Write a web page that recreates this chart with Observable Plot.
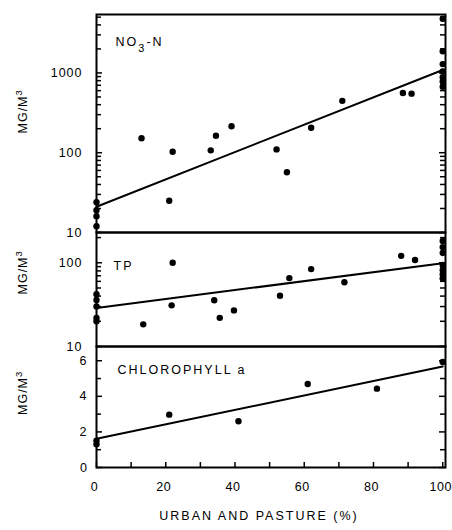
<!DOCTYPE html>
<html><head><meta charset="utf-8">
<script src="https://cdn.jsdelivr.net/npm/d3@7"></script>
<script src="https://cdn.jsdelivr.net/npm/@observablehq/plot@0.6"></script>
<style>
body{margin:0;background:#fff;}
#chart{position:relative;width:452px;height:530px;}
#chart svg{position:absolute;left:0;top:0;}
#chart text{letter-spacing:1px;}
</style></head><body><div id="chart"></div><script>
// ---- data ----
const no3X = [0,0,0,0, 13,21,22,33,34.5,39,52,55,62,71,88.5,91, 100,100,100,100,100,100,100];
const no3Y = [24,19,16,12, 152,25,103,107,163,215,110,57,206,447,560,550, 4780,1870,1290,1040,886,783,670];
const tpX = [0,0,0,0,0, 13.5,21.7,22,34,35.6,39.7,53,55.7,62,71.6,88,92, 100,100,100,100,100,100,100];
const tpY = [42,36,30,22,20, 18.4,31,100,35.7,22,27,40.4,65.6,84,58.6,121,108, 182,154,131,94,82,73,65];
const chlX = [0,0, 21,41,61,81,100];
const chlY = [1.5,1.3, 2.97,2.6,4.69,4.43,5.93];
const fitX = [0,100];
const fitNO3 = [21,1090];
const fitTP = [28.8,99];
const fitChl = [1.61,5.68];
// ticks
const no3Labels = [10,100,1000];
const no3Minor = [20,30,40,50,60,70,80,90,200,300,400,500,600,700,800,900,2000,3000,4000,5000];
const tpLabels = [10,100];
const tpMinor = [20,30,40,50,60,70,80,90,200];
const chlLabels = [0,2,4,6];
const chlTicks = [1,3,5];
const xLabels = [0,20,40,60,80,100];
const xTicks = [0,10,20,30,40,50,60,70,80,90,100];
const panelNames = ["NO3-N","TP","CHLOROPHYLL a"];
const yTitle = "MG/M3";
const xTitle = "URBAN AND PASTURE (%)";

const rows = (xs, ys) => xs.map((x,i)=>({x, y: ys[i]}));
const font = '"Liberation Sans", Arial, Helvetica, sans-serif';
const innerW = 452 - 96 - 7;

function yTicks(labels, minor, padding) {
  const m = [
    Plot.axisY(labels, {anchor:"left", tickSize:0, tickPadding:padding, tickFormat:d=>String(d), label:null}),
    Plot.tickY(labels, {y:d=>d, stroke:"black", strokeWidth:1.5, insetRight:innerW-6}),
    Plot.tickY(labels, {y:d=>d, stroke:"black", strokeWidth:1.5, insetLeft:innerW-6})
  ];
  if (minor) m.push(
    Plot.tickY(minor, {y:d=>d, stroke:"black", strokeWidth:1.5, insetRight:innerW-5}),
    Plot.tickY(minor, {y:d=>d, stroke:"black", strokeWidth:1.5, insetLeft:innerW-5})
  );
  return m;
}

function panel(opts) {
  return Plot.plot({
    width:452, height:530, marginLeft:96, marginRight:7,
    marginTop:opts.top, marginBottom:opts.bottom,
    x:{domain:[0,100.8], axis:null},
    y:Object.assign({axis:null}, opts.y),
    style:{background:"transparent", fontFamily:font, fontSize:"12.5px", color:"black", overflow:"visible"},
    marks:[
      ...opts.marks,
      Plot.frame({stroke:"black", strokeWidth:2}),
      Plot.line(rows(fitX, opts.fit), {x:"x", y:"y", stroke:"black", strokeWidth:2}),
      Plot.dot(rows(opts.xs, opts.ys), {x:"x", y:"y", r:3.2, fill:"black"}),
      Plot.text([opts.name], {frameAnchor:"top-left", dx:opts.ndx, dy:opts.ndy, textAnchor:"start"}),
      Plot.text([yTitle], {frameAnchor:"left", rotate:-90, dx:-74, dy:opts.ydy})
    ]
  });
}

const chart = document.getElementById("chart");
chart.append(panel({top:14, bottom:298, y:{type:"log", domain:[10,5400]},
  marks:yTicks(no3Labels, no3Minor, 14), fit:fitNO3, xs:no3X, ys:no3Y,
  name:panelNames[0], ndx:19, ndy:23, ydy:10}));
chart.append(panel({top:232, bottom:184, y:{type:"log", domain:[10,230]},
  marks:yTicks(tpLabels, tpMinor, 14), fit:fitTP, xs:tpX, ys:tpY,
  name:panelNames[1], ndx:17, ndy:29, ydy:5}));
chart.append(panel({top:346, bottom:63, y:{type:"linear", domain:[0,6.8]},
  marks:[
    ...yTicks(chlLabels, chlTicks, 9),
    Plot.axisX(xLabels, {anchor:"bottom", tickSize:0, tickPadding:15, dx:-2, label:null}),
    Plot.tickX(xTicks, {x:d=>d, stroke:"black", strokeWidth:1.5, insetTop:121-5}),
    Plot.text([xTitle], {frameAnchor:"bottom", dx:-12, dy:52})
  ], fit:fitChl, xs:chlX, ys:chlY,
  name:panelNames[2], ndx:21, ndy:19, ydy:8}));

// sub/superscripts and spacing
const NS = "http://www.w3.org/2000/svg";
function tspan(txt, dy, size) {
  const t = document.createElementNS(NS, "tspan");
  t.setAttribute("dy", dy); if (size) t.setAttribute("font-size", size);
  t.textContent = txt; return t;
}
chart.querySelectorAll("text").forEach(t => {
  const s = t.textContent;
  if (s === yTitle) {
    t.textContent = "MG/M"; t.appendChild(tspan("3", -5, 9.5));
  } else if (s === "NO3-N") {
    t.textContent = "NO"; t.appendChild(tspan("3", 6, 11)); t.appendChild(tspan("-N", -6));
    t.style.letterSpacing = "2px";
  } else if (s === xTitle || panelNames.includes(s)) {
    t.style.letterSpacing = "2px";
  } else if (xLabels.map(String).includes(s) && t.closest("svg") === chart.lastChild) {
    t.style.letterSpacing = "0.5px";
  }
});
</script></body></html>
